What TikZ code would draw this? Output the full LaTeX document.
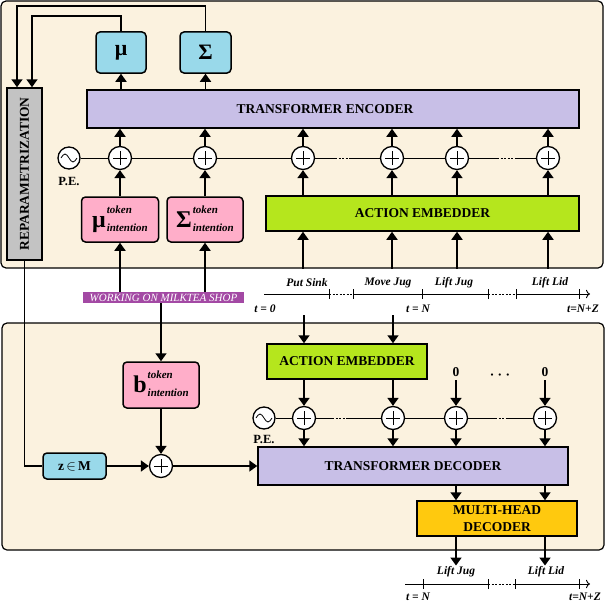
\documentclass[tikz,border=0pt]{standalone}
\usepackage{fontspec}
\setmainfont{Liberation Serif}
\usepackage{tikz}
\usetikzlibrary{arrows.meta,positioning}
\definecolor{Cream}{RGB}{251,242,223}
\definecolor{SkyBox}{RGB}{153,217,234}
\definecolor{Lavender}{RGB}{200,191,231}
\definecolor{PinkBox}{RGB}{255,174,201}
\definecolor{Lime}{RGB}{181,230,29}
\definecolor{Gold}{RGB}{255,201,14}
\definecolor{Plum}{RGB}{163,73,164}
\definecolor{Shade}{RGB}{195,195,195}
\newcommand{\boxfont}{\fontsize{13.5}{17}\selectfont\bfseries}
\newcommand{\glyphfont}{\fontsize{22}{24}\selectfont\bfseries}
\newcommand{\labfont}{\fontsize{11.5}{13}\selectfont\bfseries\itshape}
\newcommand{\tokensym}[1]{\raisebox{4pt}{\fontsize{24}{24}\selectfont\bfseries #1}\hspace{1pt}%
  {\fontsize{11}{13}\selectfont\bfseries\itshape\begin{tabular}[b]{@{}l@{}}token\\[5pt]intention\end{tabular}}}
\tikzset{
  panel/.style={draw,fill=Cream,line width=1.2pt,rounded corners=5pt,inner sep=0pt},
  blk/.style={draw,line width=1.5pt,inner sep=0pt,font=\boxfont},
  rblk/.style={blk,rounded corners=4pt},
  plus/.style={circle,draw,fill=white,line width=1.3pt,minimum size=23pt,inner sep=0pt,
    path picture={\draw[line width=1pt] (path picture bounding box.center) +(-7pt,0pt) -- +(7pt,0pt) +(0pt,-7pt) -- +(0pt,7pt);}},
  wave/.style={circle,draw,fill=white,line width=1.3pt,minimum size=22pt,inner sep=0pt,
    path picture={\draw[line width=0.8pt] ([xshift=-8pt]path picture bounding box.center) sin ++(4pt,4pt) cos ++(4pt,-4pt) sin ++(4pt,-4pt) cos ++(4pt,4pt);}},
  arr/.style={line width=1.7pt,-{Triangle[length=8pt,width=11pt]}},
  row/.style={line width=0.9pt},
  gap/.style={line width=0.9pt,dash pattern=on 2pt off 1.5pt},
  lab/.style={font=\labfont,inner sep=1pt}
}
\begin{document}
\begin{tikzpicture}[x=1pt,y=-1pt]
\useasboundingbox (0,0) rectangle (606,610);
\node[panel,minimum width=602pt,minimum height=267pt] (upper) at (302,134.5) {};
\node[panel,minimum width=602pt,minimum height=227pt] (lower) at (303,436.5) {};

\node[blk,fill=Shade,minimum width=35pt,minimum height=172pt] (rep) at (24.5,174) {\rotatebox{90}{REPARAMETRIZATION}};
\node[rblk,fill=SkyBox,minimum width=50pt,minimum height=41pt,font=\glyphfont] (mu) at (121,52.5) {μ};
\node[rblk,fill=SkyBox,minimum width=51pt,minimum height=41pt,font=\glyphfont] (sig) at (205.5,52.5) {Σ};
\node[blk,fill=Lavender,minimum width=492pt,minimum height=38pt] (enc) at (333,109) {\hspace*{-16pt}TRANSFORMER ENCODER};
\foreach \n/\x in {1/120,2/205,3/303,4/392,5/457,6/548}
  \node[plus] (e\n) at (\x,158) {};
\node[wave] (pe) at (69,158) {};
\node[below=7pt of pe,font=\fontsize{12.5}{14}\selectfont\bfseries,inner sep=0pt] (pelab) {P.E.};
\node[rblk,fill=PinkBox,minimum width=77pt,minimum height=45pt] (mutok) at (120,219.5) {\tokensym{μ}};
\node[rblk,fill=PinkBox,minimum width=76pt,minimum height=45pt] (sigtok) at (205,219.5) {\tokensym{Σ}};
\node[blk,fill=Lime,minimum width=313pt,minimum height=35pt] (ae) at (422.5,213.5) {ACTION EMBEDDER};
\node[fill=Plum,text=white,font=\fontsize{11}{12}\selectfont\itshape,minimum width=161pt,minimum height=11pt,inner sep=0pt] (task) at (163.5,297.5) {WORKING ON MILKTEA SHOP};

\node[rblk,fill=PinkBox,minimum width=76pt,minimum height=46pt] (btok) at (161,385) {\tokensym{b}};
\node[plus] (pb) at (161,466) {};
\node[rblk,fill=SkyBox,minimum width=63pt,minimum height=26pt] (zm) at (74.5,466) {z\,$\in$\,M};
\node[blk,fill=Lavender,minimum width=310pt,minimum height=38pt] (dec) at (413,466) {TRANSFORMER DECODER};
\node[blk,fill=Lime,minimum width=160pt,minimum height=35pt] (ae2) at (347,361.5) {ACTION EMBEDDER};
\foreach \n/\x in {1/304,2/393,3/456,4/545}
  \node[plus] (d\n) at (\x,418) {};
\node[wave] (pe2) at (264,418) {};
\node[below=5pt of pe2,font=\fontsize{12.5}{14}\selectfont\bfseries,inner sep=0pt] (pelab2) {P.E.};
\node[font=\boxfont] (z1) at (456,372) {0};
\node[font=\boxfont] (z2) at (545,372) {0};
\node[font=\boxfont] (dots) at (500,377) {· · ·};
\node[blk,fill=Gold,minimum width=160pt,minimum height=35pt,align=center] (mh) at (497,518.5) {MULTI-HEAD\\DECODER};

\node[lab] (put) at (307,283) {Put Sink};
\node[lab] (move) at (388,283) {Move Jug};
\node[lab] (lj) at (454,283) {Lift Jug};
\node[lab] (ll) at (550,283) {Lift Lid};
\node[lab] (t0) at (265,309) {t = 0};
\node[lab] (tn) at (418,309) {t = N};
\node[lab] (tz) at (583,309) {t=N+Z};
\node[lab] (lj2) at (456,572) {Lift Jug};
\node[lab] (ll2) at (546,572) {Lift Lid};
\node[lab] (tn2) at (418,597) {t = N};
\node[lab] (tz2) at (585,597) {t=N+Z};
\coordinate (in1) at (304,315);
\coordinate (in2) at (393,315);

\draw[arr] (mu |- enc.north) -- (mu);
\draw[arr] (sig |- enc.north) -- (sig);
\draw[arr] (sig.north) -- ++(0,-25) -| ([xshift=-7.5pt]rep.north);
\draw[arr] (mu.north) -- ++(0,-15) -| ([xshift=7.5pt]rep.north);
\foreach \n in {1,...,6}
  \draw[arr] (e\n) -- (e\n |- enc.south);
\draw[row] (pe) -- (e1) -- (e2) -- (e3) -- (335,158);
\draw[gap] (335,158) -- (350,158);
\draw[row] (350,158) -- (e4) -- (e5) -- (497,158);
\draw[gap] (497,158) -- (517,158);
\draw[row] (517,158) -- (e6);
\draw[arr] (mutok) -- (e1);
\draw[arr] (sigtok) -- (e2);
\foreach \n in {3,...,6}{
  \draw[arr] (e\n |- ae.north) -- (e\n);
  \draw[arr] (upper.south -| e\n) -- (e\n |- ae.south);
}
\draw[arr] (task.north -| mutok) -- (mutok);
\draw[arr] (task.north -| sigtok) -- (sigtok);
\draw[arr] (task.south -| btok) -- (btok);

\draw[line width=1.7pt] (rep.south) |- (zm.west);
\draw[arr] (zm) -- (pb);
\draw[arr] (btok) -- (pb);
\draw[arr] (pb) -- (pb -| dec.west);
\draw[arr] (in1) -- (in1 |- ae2.north);
\draw[arr] (in2) -- (in2 |- ae2.north);
\draw[arr] (ae2.south -| d1) -- (d1);
\draw[arr] (ae2.south -| d2) -- (d2);
\draw[arr] (z1) -- (d3);
\draw[arr] (z2) -- (d4);
\foreach \n in {1,...,4}
  \draw[arr] (d\n) -- (d\n |- dec.north);
\draw[row] (pe2) -- (d1) -- (332,418);
\draw[gap] (332,418) -- (347,418);
\draw[row] (347,418) -- (d2) -- (d3) -- (495,418);
\draw[gap] (495,418) -- (508,418);
\draw[row] (508,418) -- (d4);
\draw[arr] (dec.south -| d3) -- (d3 |- mh.north);
\draw[arr] (dec.south -| d4) -- (d4 |- mh.north);
\draw[arr] (mh.south -| d3) -- (d3 |- lj2.north);
\draw[arr] (mh.south -| d4) -- (d4 |- ll2.north);

\draw[row] (264,294) -- (329,294);
\draw[gap] (329,294) -- (353,294);
\draw[row] (353,294) -- (488,294);
\draw[gap] (488,294) -- (516,294);
\draw[row,-{To[length=4pt]}] (516,294) -- (590,294);
\foreach \x in {329,353,422,488,516,579}
  \draw[row] (\x,289) -- (\x,299);
\draw[row] (405,584) -- (488,584);
\draw[gap] (488,584) -- (515,584);
\draw[row,-{To[length=4pt]}] (515,584) -- (590,584);
\foreach \x in {423,488,515,579}
  \draw[row] (\x,579) -- (\x,589);
\end{tikzpicture}
\end{document}
